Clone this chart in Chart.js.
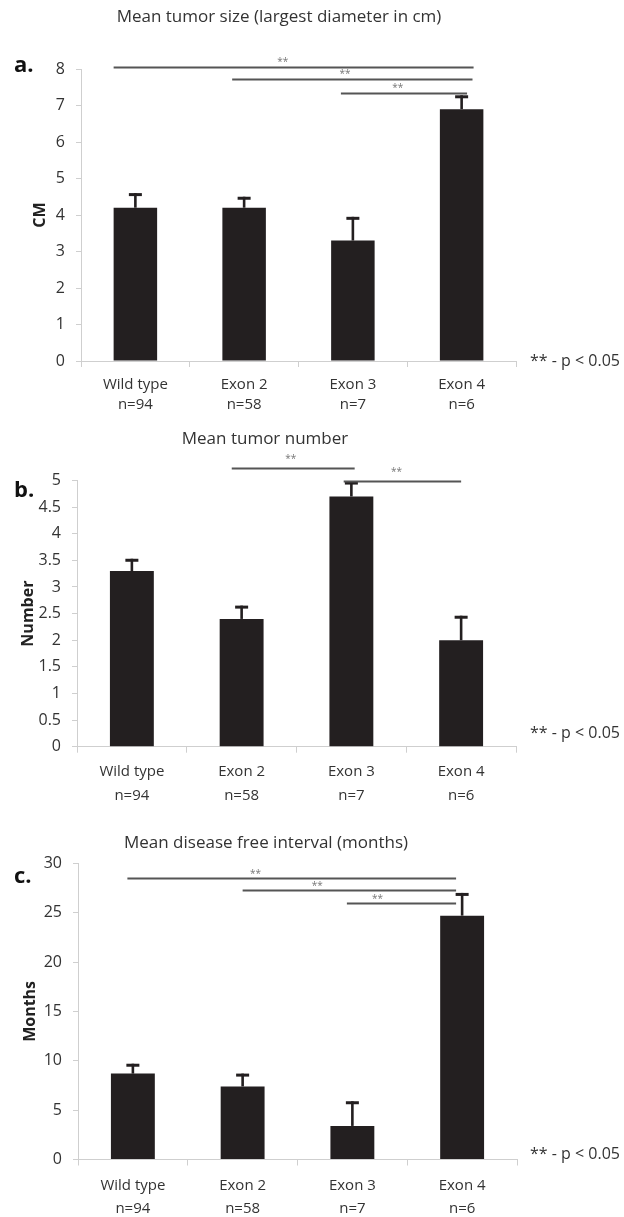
<!DOCTYPE html>
<html>
<head>
<meta charset="utf-8">
<script src="https://cdn.jsdelivr.net/npm/chart.js@4.4.1/dist/chart.umd.min.js"></script>
<style>
body { margin: 0; background: #fff; }
.panel { position: absolute; left: 0; width: 624px; }
</style>
</head>
<body>
<div class="panel" style="top:0;height:420px"><canvas id="chartA"></canvas></div>
<div class="panel" style="top:420px;height:390px"><canvas id="chartB"></canvas></div>
<div class="panel" style="top:810px;height:407px"><canvas id="chartC"></canvas></div>
<script>
const groups = ['Wild type', 'Exon 2', 'Exon 3', 'Exon 4'];
const groupN = ['n=94', 'n=58', 'n=7', 'n=6'];

// a. tumour size (cm)
const sizeMeans = [4.2, 4.2, 3.3, 6.9];
const sizeErr = [0.4, 0.3, 0.65, 0.38];
const sizeSig = [[0, 3, 8.06], [1, 3, 7.72], [2, 3, 7.33]];

// b. tumour number
const countMeans = [3.3, 2.4, 4.7, 2.0];
const countErr = [0.23, 0.25, 0.28, 0.46];
const countSig = [[1, 2, 5.23], [2, 3, 5.0]];

// c. disease free interval (months)
const dfiMeans = [8.7, 7.4, 3.4, 24.7];
const dfiErr = [1.0, 1.3, 2.5, 2.3];
const dfiSig = [[0, 3, 28.5], [1, 3, 27.3], [2, 3, 26.0]];

const barColor = '#231f20';
const axisColor = '#cfcfcf';
const textColor = '#333333';
const fontFamily = '"Open Sans", "Noto Sans", sans-serif';

const decor = {
	id: 'decor',
	afterDatasetsDraw(chart, args, o) {
		const {ctx, scales: {x, y}} = chart;
		const means = chart.data.datasets[0].data;
		ctx.save();
		ctx.fillStyle = barColor;
		o.err.forEach(function(e, i) {
			const cx = x.getPixelForValue(i);
			const y0 = y.getPixelForValue(means[i]);
			const y1 = y.getPixelForValue(means[i] + e);
			ctx.fillRect(cx - 1.3, y1, 2.6, y0 - y1);
			ctx.fillRect(cx - 6.5, y1, 13, 3);
		});
		ctx.strokeStyle = '#555';
		ctx.lineWidth = 2;
		ctx.fillStyle = '#777';
		ctx.font = '10px ' + fontFamily;
		ctx.textAlign = 'center';
		ctx.textBaseline = 'bottom';
		o.sig.forEach(function(s, k) {
			const x0 = x.getPixelForValue(s[0] + o.sigStart[k]);
			const x1 = x.getPixelForValue(s[1] + o.sigEnd[k]);
			const yy = Math.round(y.getPixelForValue(s[2])) + 0.5;
			ctx.beginPath();
			ctx.moveTo(x0, yy);
			ctx.lineTo(x1, yy);
			ctx.stroke();
			ctx.fillText('**', x0 + (x1 - x0) * o.starAt[k], yy + o.starDy);
		});
		ctx.restore();
	},
	afterDraw(chart, args, o) {
		const {ctx, chartArea} = chart;
		ctx.save();
		ctx.fillStyle = textColor;
		ctx.textBaseline = 'middle';
		ctx.textAlign = 'center';
		ctx.font = '17px ' + fontFamily;
		ctx.fillText(o.title, o.titleX, o.titleY);
		ctx.textAlign = 'left';
		ctx.fillStyle = '#111';
		ctx.font = 'bold 22px ' + fontFamily;
		ctx.fillText(o.letter, 14, o.letterY);
		ctx.fillStyle = textColor;
		ctx.font = '16px ' + fontFamily;
		ctx.fillText('** - p < 0.05', 530, chartArea.bottom + o.noteDy);
		ctx.translate(o.axisX, (chartArea.top + chartArea.bottom) / 2);
		ctx.rotate(-Math.PI / 2);
		ctx.textAlign = 'center';
		ctx.fillStyle = '#222';
		ctx.font = 'bold 16px ' + fontFamily;
		ctx.fillText(o.axisTitle, 0, 0);
		ctx.restore();
	}
};

function panel(id, means, cfg) {
	const labels = groups.map(function(g, i) { return [g, groupN[i]]; });
	return new Chart(document.getElementById(id), {
		type: 'bar',
		data: {
			labels: labels,
			datasets: [{
				data: means,
				backgroundColor: barColor,
				barPercentage: 0.4,
				categoryPercentage: 1.0
			}]
		},
		options: {
			responsive: true,
			maintainAspectRatio: false,
			animation: false,
			events: [],
			layout: { padding: { top: cfg.top, right: cfg.right, bottom: 0, left: 0 } },
			plugins: {
				legend: { display: false },
				tooltip: { enabled: false },
				decor: cfg.decor
			},
			scales: {
				x: {
					offset: true,
					border: { color: axisColor, width: 1 },
					grid: { offset: true, drawOnChartArea: false, color: axisColor, tickLength: 6 },
					ticks: {
						color: textColor,
						padding: cfg.tickPad,
						font: { family: fontFamily, size: 15, lineHeight: cfg.lineHeight }
					},
					afterFit: function(scale) {
						scale.height = cfg.xHeight;
						scale.paddingLeft = 0;
						scale.paddingRight = 0;
					}
				},
				y: {
					min: 0,
					max: cfg.max,
					border: { color: axisColor, width: 1 },
					grid: { drawOnChartArea: false, color: axisColor, tickLength: 5 },
					ticks: {
						stepSize: cfg.step,
						color: textColor,
						padding: 11,
						font: { family: fontFamily, size: 16 },
						callback: function(v) { return String(Number(v)); }
					},
					afterFit: function(scale) {
						scale.width = cfg.left;
						scale.paddingTop = 0;
						scale.paddingBottom = 0;
					}
				}
			}
		},
		plugins: [decor]
	});
}

panel('chartA', sizeMeans, {
	top: 69, right: 108, left: 81, xHeight: 59, max: 8, step: 1, tickPad: 8, lineHeight: 1.333,
	decor: {
		err: sizeErr, sig: sizeSig,
		sigStart: [-0.2, -0.11, -0.11], sigEnd: [0.11, 0.1, 0.05], starAt: [0.47, 0.47, 0.45], starDy: 0,
		title: 'Mean tumor size (largest diameter in cm)', titleX: 279, titleY: 17,
		letter: 'a.', letterY: 66, axisTitle: 'CM', axisX: 40, noteDy: 0
	}
});

panel('chartB', countMeans, {
	top: 60.5, right: 108, left: 77, xHeight: 63.3, max: 5, step: 0.5, tickPad: 7, lineHeight: 1.62,
	decor: {
		err: countErr, sig: countSig,
		sigStart: [-0.09, -0.07], sigEnd: [0.03, 0.0], starAt: [0.48, 0.45], starDy: -4,
		title: 'Mean tumor number', titleX: 265, titleY: 19,
		letter: 'b.', letterY: 71, axisTitle: 'Number', axisX: 28, noteDy: -13
	}
});

panel('chartC', dfiMeans, {
	top: 53.3, right: 107, left: 78, xHeight: 57.5, max: 30, step: 5, tickPad: 9, lineHeight: 1.53,
	decor: {
		err: dfiErr, sig: dfiSig,
		sigStart: [-0.05, 0.0, -0.05], sigEnd: [-0.055, -0.055, -0.055], starAt: [0.39, 0.35, 0.28], starDy: 1,
		title: 'Mean disease free interval (months)', titleX: 266, titleY: 33,
		letter: 'c.', letterY: 67, axisTitle: 'Months', axisX: 30, noteDy: -5
	}
});
</script>
</body>
</html>
